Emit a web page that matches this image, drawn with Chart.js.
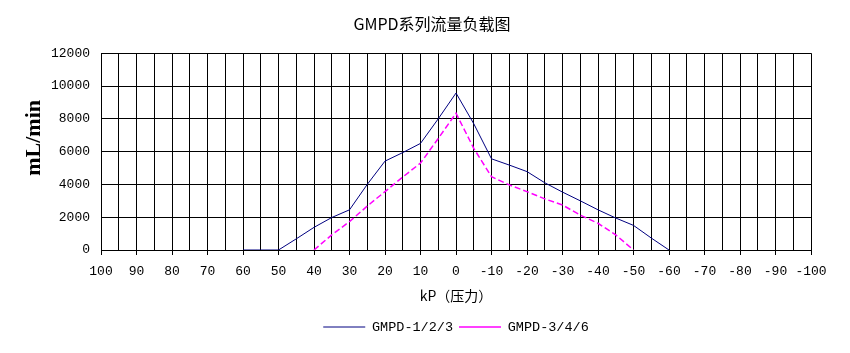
<!DOCTYPE html>
<html>
<head>
<meta charset="utf-8">
<title>GMPD系列流量负载图</title>
<script src="https://cdn.jsdelivr.net/npm/chart.js@4.4.1/dist/chart.umd.min.js"></script>
<style>
  html, body { margin: 0; padding: 0; background: #fff; }
  #wrap { width: 850px; height: 353px; }
</style>
</head>
<body>
<div id="wrap"><canvas id="flowChart" width="850" height="353"></canvas></div>
<script>
// Pressure categories (kP), left to right
const pressure = [100, 95, 90, 85, 80, 75, 70, 65, 60, 55, 50, 45, 40, 35, 30, 25, 20, 15, 10, 5, 0,
  -5, -10, -15, -20, -25, -30, -35, -40, -45, -50, -55, -60, -65, -70, -75, -80, -85, -90, -95, -100];

// Flow (mL/min), null where the series has no point
const gmpd123 = [null, null, null, null, null, null, null, null, 0, 0, 0, 680, 1380, 1980, 2450, 4000, 5420, 5940, 6500, 8000, 9570,
  7700, 5560, 5180, 4780, 4100, 3530, 3000, 2450, 1950, 1500, 730, 0, null, null, null, null, null, null, null, null];
const gmpd346 = [null, null, null, null, null, null, null, null, null, null, null, null, 0, 920, 1730, 2680, 3560, 4450, 5300, 6800, 8340,
  6200, 4470, 3970, 3560, 3120, 2740, 2130, 1630, 920, 0, null, null, null, null, null, null, null, null, null, null];

const seriesNames = ['GMPD-1/2/3', 'GMPD-3/4/6'];
const yTicks = [0, 2000, 4000, 6000, 8000, 10000, 12000];

document.addEventListener('DOMContentLoaded', () => {
  const canvas = document.getElementById('flowChart');
  if (!canvas) {
    console.error('chart: canvas not found');
    return;
  }

  Chart.defaults.color = '#000';
  Chart.defaults.font.family = '"Liberation Mono", monospace';

  const gridBlack = '#000';

  new Chart(canvas, {
    type: 'line',
    data: {
      labels: pressure,
      datasets: [{
        label: seriesNames[0],
        data: gmpd123,
        borderColor: '#000080',
        backgroundColor: '#000080',
        borderWidth: 1,
        pointRadius: 0,
        tension: 0,
        fill: false
      }, {
        label: seriesNames[1],
        data: gmpd346,
        borderColor: '#ff00ff',
        backgroundColor: '#ff00ff',
        borderWidth: 1.5,
        borderDash: [6, 3],
        pointRadius: 0,
        tension: 0,
        fill: false
      }]
    },
    options: {
      responsive: false,
      animation: false,
      devicePixelRatio: 1,
      layout: { padding: { left: 14, right: 0, top: 0, bottom: 9.25 } },
      plugins: {
        title: {
          display: true,
          text: 'GMPD系列流量负载图',
          font: { family: '"Noto Sans CJK SC", sans-serif', size: 16, weight: 'normal' },
          padding: { top: 14.4, bottom: 19.6 }
        },
        legend: {
          position: 'bottom',
          fullSize: false,
          labels: {
            usePointStyle: true,
            pointStyle: 'line',
            pointStyleWidth: 42,
            boxHeight: 8,
            padding: 6,
            font: { size: 13.5 }
          }
        },
        tooltip: { enabled: false }
      },
      scales: {
        x: {
          type: 'category',
          offset: false,
          grid: {
            color: gridBlack,
            lineWidth: 1,
            tickLength: 5,
            tickColor: (ctx) => (ctx.index % 2 === 0 ? gridBlack : 'rgba(0,0,0,0)')
          },
          border: { color: gridBlack },
          ticks: {
            autoSkip: false,
            maxRotation: 0,
            padding: 9,
            font: { size: 13 },
            callback: (value, index) => (index % 2 === 0 ? String(pressure[index]) : '')
          },
          title: {
            display: true,
            text: 'kP（压力）',
            font: { family: '"Noto Sans CJK SC", sans-serif', size: 14 },
            padding: { top: 0, bottom: 10 }
          },
          afterFit: (scale) => { scale.height = 64.25; }
        },
        y: {
          min: 0,
          max: 12000,
          grid: { color: gridBlack, lineWidth: 1, drawTicks: false },
          border: { color: gridBlack },
          afterBuildTicks: (scale) => { scale.ticks = yTicks.map(v => ({ value: v })); },
          ticks: {
            padding: 11,
            font: { size: 13 },
            callback: (value) => String(value)
          },
          title: {
            display: true,
            text: '     mL/min',
            font: { family: '"Liberation Serif", serif', size: 22, weight: 'bold' },
            padding: { top: 7, bottom: 0 }
          },
          afterFit: (scale) => { scale.width = 87; }
        },
        // empty right axis, only keeps the plot area clear of the right edge
        yRight: {
          position: 'right',
          min: 0,
          max: 12000,
          grid: { drawOnChartArea: false, drawTicks: false },
          border: { display: false },
          ticks: { display: false },
          afterFit: (scale) => { scale.width = 39; }
        }
      }
    }
  });
});
</script>
</body>
</html>
